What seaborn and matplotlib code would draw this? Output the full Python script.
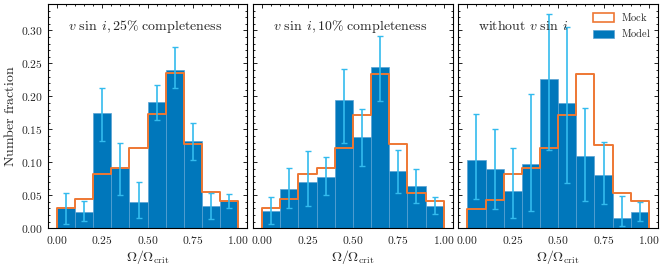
import numpy as np
import pandas as pd
import matplotlib
matplotlib.use("Agg")
import matplotlib.pyplot as plt
from matplotlib.patches import Patch
from matplotlib.ticker import MultipleLocator, AutoMinorLocator, FuncFormatter
import seaborn as sns

# ---------------- data ----------------
bin_edges = [0.0, 0.1, 0.2, 0.3, 0.4, 0.5, 0.6, 0.7, 0.8, 0.9, 1.0]

panel_titles = [r"$v\ \sin\;i, 25\%\ \mathrm{completeness}$",
                r"$v\ \sin\;i, 10\%\ \mathrm{completeness}$",
                r"$\mathrm{without}\ v\ \sin\;i$"]

mock_p1 = [0.030, 0.044, 0.082, 0.092, 0.122, 0.173, 0.235, 0.128, 0.055, 0.042]
model_p1 = [0.030, 0.025, 0.175, 0.092, 0.040, 0.192, 0.240, 0.132, 0.034, 0.042]
err_hi_p1 = [0.054, 0.042, 0.213, 0.129, 0.070, 0.217, 0.275, 0.160, 0.053, 0.052]
err_lo_p1 = [0.007, 0.011, 0.133, 0.051, 0.015, 0.164, 0.212, 0.103, 0.014, 0.031]

mock_p2 = [0.030, 0.044, 0.082, 0.091, 0.122, 0.172, 0.234, 0.128, 0.054, 0.041]
model_p2 = [0.026, 0.060, 0.070, 0.078, 0.194, 0.138, 0.244, 0.087, 0.064, 0.034]
err_hi_p2 = [0.047, 0.091, 0.117, 0.108, 0.242, 0.181, 0.291, 0.119, 0.090, 0.048]
err_lo_p2 = [0.006, 0.031, 0.034, 0.051, 0.129, 0.095, 0.193, 0.053, 0.039, 0.021]

mock_p3 = [0.029, 0.043, 0.082, 0.091, 0.122, 0.172, 0.234, 0.127, 0.053, 0.041]
model_p3 = [0.104, 0.090, 0.057, 0.098, 0.226, 0.190, 0.109, 0.081, 0.016, 0.024]
err_hi_p3 = [0.173, 0.151, 0.121, 0.204, 0.325, 0.305, 0.182, 0.131, 0.049, 0.040]
err_lo_p3 = [0.044, 0.029, 0.016, 0.026, 0.119, 0.068, 0.042, 0.037, 0.004, 0.011]

panels = [
    (mock_p1, model_p1, err_hi_p1, err_lo_p1),
    (mock_p2, model_p2, err_hi_p2, err_lo_p2),
    (mock_p3, model_p3, err_hi_p3, err_lo_p3),
]

# ---------------- style ----------------
sns.set_style("ticks")
plt.rcParams["font.family"] = ["DejaVu Serif"]
plt.rcParams["mathtext.fontset"] = "cm"
plt.rcParams["axes.linewidth"] = 0.8

c_model = "#0077BB"
c_err = "#33BBEE"
c_mock = "#EE7733"
c_edge = "#5aa3d3"

fig, axes = plt.subplots(1, 3, figsize=(6.64, 2.67), dpi=100, sharey=True)
fig.subplots_adjust(left=0.072, right=0.991, top=0.985, bottom=0.145, wspace=0.028)

edges = np.array(bin_edges)
centers = (edges[:-1] + edges[1:]) / 2
bw = edges[1] - edges[0]

for i, (ax, (mock, model, ehi, elo)) in enumerate(zip(axes, panels)):
    df = pd.DataFrame({"x": centers, "model": model, "mock": mock})
    sns.histplot(data=df, x="x", weights="model", binwidth=bw,
                 binrange=(edges[0], edges[-1]), stat="count",
                 element="bars", color=c_model, alpha=1.0,
                 edgecolor=c_edge, linewidth=0.5, ax=ax)
    sns.histplot(data=df, x="x", weights="mock", binwidth=bw,
                 binrange=(edges[0], edges[-1]), stat="count",
                 element="step", fill=False, color=c_mock, linewidth=1.4, ax=ax)
    # close the step outline down to the baseline at both ends
    line = ax.lines[-1]
    xd = np.asarray(line.get_xdata(), dtype=float)
    yd = np.asarray(line.get_ydata(), dtype=float)
    line.set_data(np.r_[xd[0], xd, xd[-1]], np.r_[0.0, yd, 0.0])

    model_a = np.array(model)
    yerr = [model_a - np.array(elo), np.array(ehi) - model_a]
    ax.errorbar(centers, model_a, yerr=yerr, fmt="none", ecolor=c_err,
                elinewidth=1.2, capsize=2.0, capthick=1.0, zorder=3)

    ax.set_xlim(-0.05, 1.05)
    ax.set_ylim(0, 0.34)
    ax.xaxis.set_major_locator(MultipleLocator(0.25))
    ax.xaxis.set_minor_locator(AutoMinorLocator(5))
    ax.yaxis.set_major_locator(MultipleLocator(0.05))
    ax.yaxis.set_minor_locator(AutoMinorLocator(5))
    ax.xaxis.set_major_formatter(FuncFormatter(lambda v, p: f"${v:.2f}$"))
    ax.yaxis.set_major_formatter(FuncFormatter(lambda v, p: f"${v:.2f}$"))
    ax.tick_params(which="both", direction="in", top=True, right=True,
                   labelsize=8.3, width=0.6, color="black")
    ax.tick_params(which="major", length=3)
    ax.tick_params(which="minor", length=1.6)
    ax.tick_params(axis="x", pad=4)
    for s in ax.spines.values():
        s.set_color("black")
        s.set_linewidth(0.8)

    ax.set_xlabel(r"$\Omega/\Omega_{\mathrm{crit}}$", fontsize=10, labelpad=1)
    if i == 0:
        ax.set_ylabel(r"$\mathrm{Number\ fraction}$", fontsize=10, labelpad=3)
    else:
        ax.set_ylabel("")
    ax.text(0.1, 0.9, panel_titles[i], transform=ax.transAxes,
            ha="left", va="center", fontsize=10)

handles = [Patch(facecolor="white", edgecolor=c_mock, linewidth=1.2, label=r"$\mathrm{Mock}$"),
           Patch(facecolor=c_model, edgecolor=c_edge, linewidth=0.5, label=r"$\mathrm{Model}$")]
axes[2].legend(handles=handles, loc="upper right", frameon=False, fontsize=7.5,
               handlelength=2.0, handleheight=0.9, borderaxespad=0.3,
               labelspacing=0.4, handletextpad=0.7)

fig.savefig("out.png", dpi=100)
